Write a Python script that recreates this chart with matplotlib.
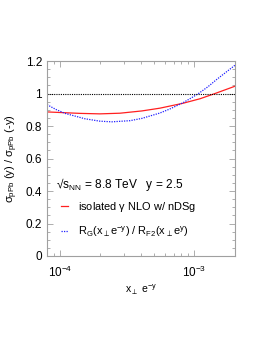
import matplotlib
matplotlib.use("Agg")
import matplotlib.pyplot as plt
import numpy as np
from matplotlib.ticker import FixedLocator, MultipleLocator, NullFormatter

plt.rcParams['font.family'] = ['Liberation Sans', 'DejaVu Sans']
plt.rcParams['mathtext.default'] = 'regular'

# data
x_red = [8e-5, 1.09e-4, 1.41e-4, 1.98e-4, 2.79e-4, 4.06e-4, 5.53e-4, 8.2e-4, 1.1e-3, 1.42e-3, 2e-3]
y_red = [0.887, 0.882, 0.878, 0.875, 0.879, 0.893, 0.910, 0.940, 0.968, 1.0, 1.045]
x_blue = [8e-5, 9.33e-5, 1.09e-4, 1.53e-4, 1.98e-4, 2.43e-4, 3.31e-4, 4.06e-4,
          5.53e-4, 6.56e-4, 8.2e-4, 9.25e-4, 1.08e-3, 1.26e-3, 1.47e-3, 2e-3]
y_blue = [0.932, 0.902, 0.878, 0.845, 0.830, 0.826, 0.833, 0.847,
          0.880, 0.905, 0.943, 0.968, 1.002, 1.042, 1.088, 1.174]
xlim = (8e-5, 2e-3)
ylim = (0, 1.2)
yticks = [0, 0.2, 0.4, 0.6, 0.8, 1, 1.2]
yticklabels = ['0', '0.2', '0.4', '0.6', '0.8', '1', '1.2']

fig = plt.figure(figsize=(2.7, 3.49), dpi=100)
ax = fig.add_axes([0.174, 0.2665, 0.696, 0.5585])

ax.plot(x_red, y_red, color='#ff2020', lw=0.9, label=r'isolated $\gamma$ NLO w/ nDSg')
ax.plot(x_blue, y_blue, color='#2020ff', lw=0.9, ls=(0, (1, 1)),
        label=r'R$_G$(x$_\perp$e$^{-y}$) / R$_{F2}$(x$_\perp$e$^{y}$)')
ax.axhline(1.0, color='black', lw=0.8, ls=(0, (1, 1)))

ax.set_xscale('log')
ax.set_xlim(*xlim)
ax.set_ylim(*ylim)
ax.set_yticks(yticks)
ax.set_yticklabels(yticklabels)
ax.yaxis.set_minor_locator(MultipleLocator(0.05))
ax.set_xticks([1e-4, 1e-3])
ax.set_xticklabels([r'$10^{-4}$', r'$10^{-3}$'])
minors = [k * 10.0**e for e in (-5, -4, -3) for k in range(2, 10)]
ax.xaxis.set_minor_locator(FixedLocator(minors))
ax.xaxis.set_minor_formatter(NullFormatter())

for s in ax.spines.values():
    s.set_color('#a0a0a0')
    s.set_linewidth(0.8)
ax.tick_params(which='both', direction='in', top=True, right=True, color='#a0a0a0',
               labelsize=8.5, width=0.6)
ax.tick_params(which='major', length=4)
ax.tick_params(which='minor', length=2)
ax.tick_params(axis='x', pad=6)

ax.set_ylabel(r'$\sigma_{pPb}$ (y) / $\sigma_{pPb}$ (-y)', fontsize=8)
ax.set_xlabel(r'x$_\perp$ e$^{-y}$', fontsize=7.5, labelpad=2)

ax.text(0.05, 0.35, '\u221as$_{NN}$ = 8.8 TeV   y = 2.5', transform=ax.transAxes, fontsize=8.6)
leg = ax.legend(loc='lower left', bbox_to_anchor=(0.02, 0.035), frameon=False, fontsize=7.9,
                handlelength=0.7, labelspacing=1.0, handletextpad=0.9)

fig.savefig('out.png', dpi=100)
